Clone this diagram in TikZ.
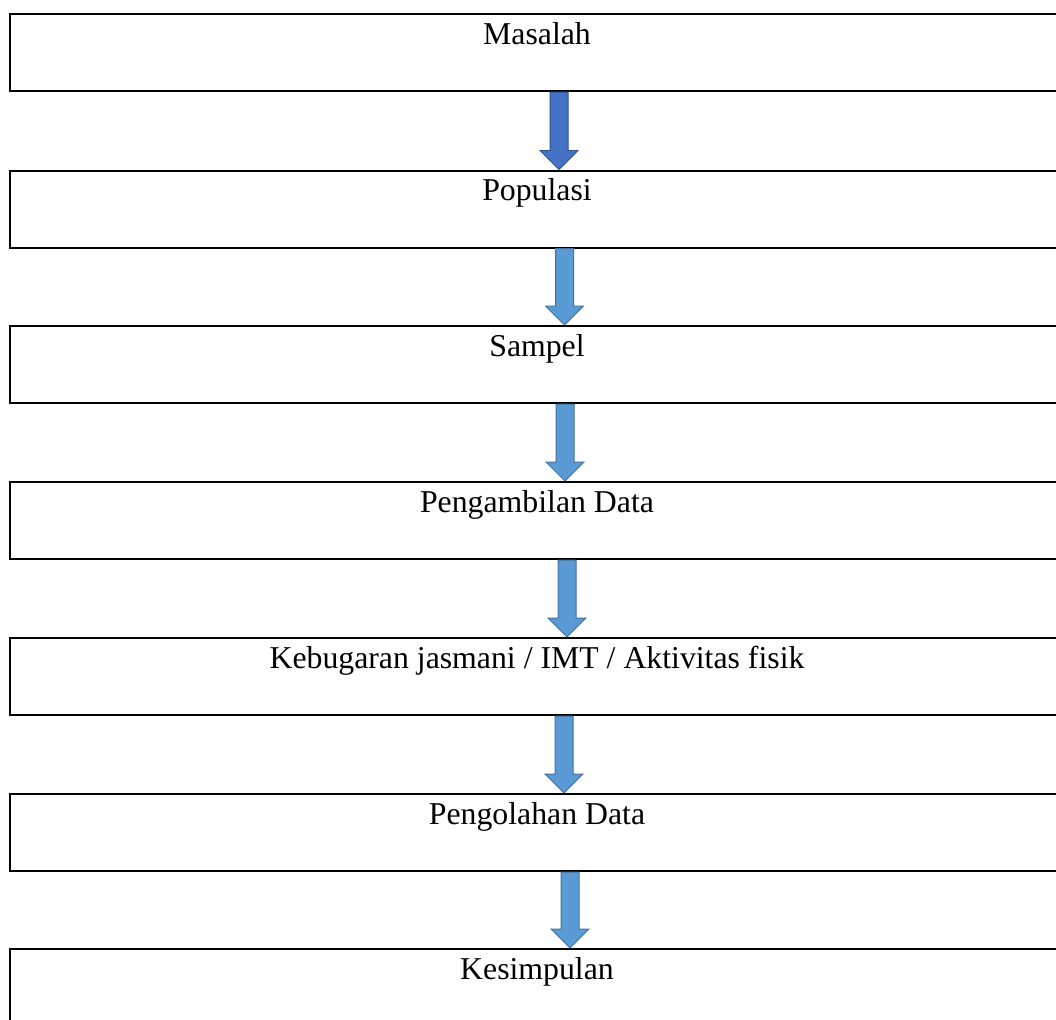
\documentclass[tikz,border=0pt]{standalone}
\usepackage{fontspec}
\setmainfont{Liberation Serif}
\definecolor{flowdark}{RGB}{68,114,196}
\definecolor{flowdarkline}{RGB}{47,82,143}
\definecolor{flowblue}{RGB}{91,155,213}
\definecolor{flowblueline}{RGB}{65,113,156}
\usetikzlibrary{calc}
\tikzset{
  stagebox/.style={draw=black, line width=1.5pt, rectangle, inner sep=0pt, minimum width=26.35cm, minimum height=1.925cm, text height=0.75cm, text depth=1.175cm, font=\fontsize{22.6}{27}\selectfont},
  darkarrow/.style={fill=flowdark, draw=flowdarkline, line width=0.7pt},
  bluearrow/.style={fill=flowblue, draw=flowblueline, line width=0.7pt},
}
% block arrow from the bottom of #1 to the top of #2, shifted right by #3
\newcommand{\flowarrow}[4]{%
  \filldraw[#4] ($(#1.south)+(#3-9,0)$) -- ($(#2.north)+(#3-9,-19)$) -- ($(#2.north)+(#3-19,-19)$) -- ($(#2.north)+(#3,0)$) -- ($(#2.north)+(#3+19,-19)$) -- ($(#2.north)+(#3+9,-19)$) -- ($(#1.south)+(#3+9,0)$) -- cycle;}

\begin{document}
\begin{tikzpicture}[x=0.025cm, y=-0.025cm]
  \useasboundingbox (0,0) rectangle (1056,1019);
  \clip (0,0) rectangle (1056,1019);

  % Stages
  \node[stagebox, anchor=north] (masalah) at (537,13) {Masalah};
  \node[stagebox, anchor=north] (populasi) at (537,169.5) {Populasi};
  \node[stagebox, anchor=north] (sampel) at (537,325) {Sampel};
  \node[stagebox, anchor=north] (ambil) at (537,481) {Pengambilan Data};
  \node[stagebox, anchor=north] (ukur) at (537,637) {Kebugaran jasmani / IMT / Aktivitas fisik};
  \node[stagebox, anchor=north] (olah) at (537,793) {Pengolahan Data};
  \node[stagebox, anchor=north] (simpul) at (537,948) {Kesimpulan};

  % Arrows
  \flowarrow{masalah}{populasi}{22}{darkarrow}
  \flowarrow{populasi}{sampel}{27.5}{bluearrow}
  \flowarrow{sampel}{ambil}{28}{bluearrow}
  \flowarrow{ambil}{ukur}{30}{bluearrow}
  \flowarrow{ukur}{olah}{27}{bluearrow}
  \flowarrow{olah}{simpul}{33}{bluearrow}
\end{tikzpicture}
\end{document}
